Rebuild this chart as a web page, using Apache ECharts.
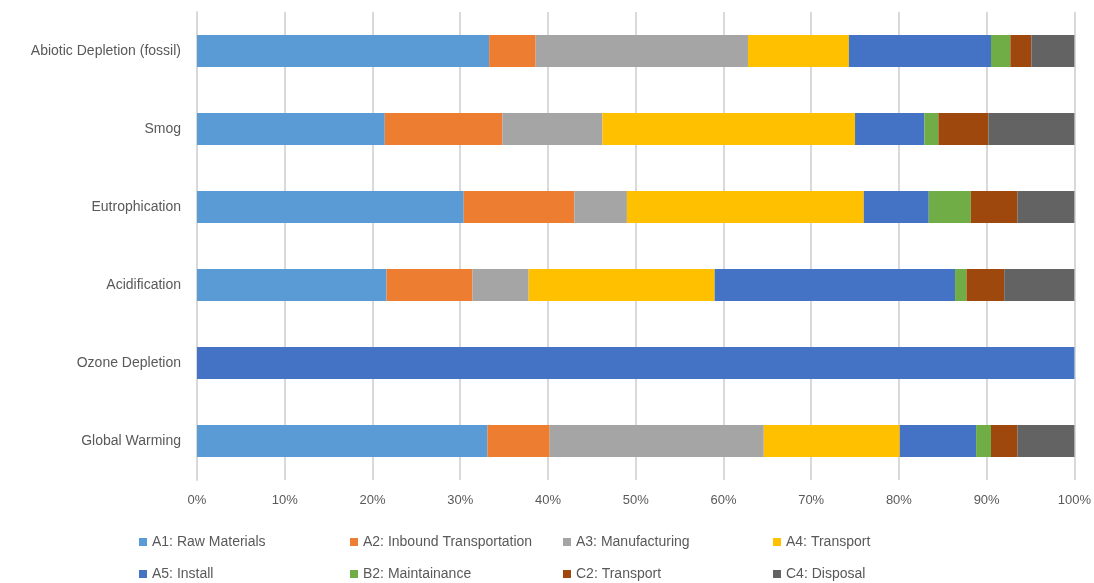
<!DOCTYPE html>
<html>
<head>
<meta charset="utf-8">
<script src="https://cdn.jsdelivr.net/npm/echarts@6/dist/echarts.min.js"></script>
<style>
html,body{margin:0;padding:0;background:#fff;}
#chart{width:1094px;height:583px;}
</style>
</head>
<body>
<div id="chart"></div>
<script>
const categories = ['Global Warming','Ozone Depletion','Acidification','Eutrophication','Smog','Abiotic Depletion (fossil)'];
const seriesNames = ['A1: Raw Materials','A2: Inbound Transportation','A3: Manufacturing','A4: Transport','A5: Install','B2: Maintainance','C2: Transport','C4: Disposal'];
const colors = ['#5B9BD5','#ED7D31','#A5A5A5','#FFC000','#4472C4','#70AD47','#9E480E','#636363'];
// values in percent, order follows categories
const A1 = [33.1, 0,   21.6, 30.4, 21.4, 33.3];
const A2 = [7.1,  0,   9.8,  12.6, 13.4, 5.3];
const A3 = [24.4, 0,   6.4,  6.0,  11.4, 24.2];
const A4 = [15.5, 0,   21.2, 27.0, 28.8, 11.5];
const A5 = [8.7,  100, 27.4, 7.4,  7.9,  16.2];
const B2 = [1.7,  0,   1.3,  4.8,  1.6,  2.2];
const C2 = [3.0,  0,   4.3,  5.3,  5.7,  2.4];
const C4 = [6.5,  0,   8.0,  6.5,  9.8,  4.9];
const seriesValues = [A1,A2,A3,A4,A5,B2,C2,C4];

const font = 'Liberation Sans, Arial, sans-serif';
const chart = echarts.init(document.getElementById('chart'));
const legendCols = [134, 345, 558, 768];
const legendRows = [530, 562];
const legends = seriesNames.map((n, i) => ({
  left: legendCols[i % 4],
  top: legendRows[Math.floor(i / 4)],
  itemWidth: 8, itemHeight: 8, itemGap: 5, icon: 'rect',
  textStyle: {fontFamily: font, fontSize: 14, color: '#595959'},
  data: [n]
}));
chart.setOption({
  animation: false,
  color: colors,
  grid: {left: 197, right: 19, top: 12, height: 468, containLabel: false},
  xAxis: {
    type: 'value', min: 0, max: 100, interval: 10,
    axisLabel: {formatter: v => v + '%', color: '#595959', fontFamily: font, fontSize: 13, margin: 14},
    axisLine: {show: false}, axisTick: {show: false},
    splitLine: {show: true, lineStyle: {color: '#D9D9D9', width: 2}}
  },
  yAxis: {
    type: 'category', data: categories,
    axisLabel: {color: '#595959', fontFamily: font, fontSize: 14, margin: 16},
    axisLine: {show: true, lineStyle: {color: '#D9D9D9', width: 2}},
    axisTick: {show: false}
  },
  legend: legends,
  series: seriesNames.map((n, i) => ({
    name: n, type: 'bar', stack: 'total', barWidth: 32,
    data: seriesValues[i],
    itemStyle: {color: colors[i]}
  }))
});
</script>
</body>
</html>
